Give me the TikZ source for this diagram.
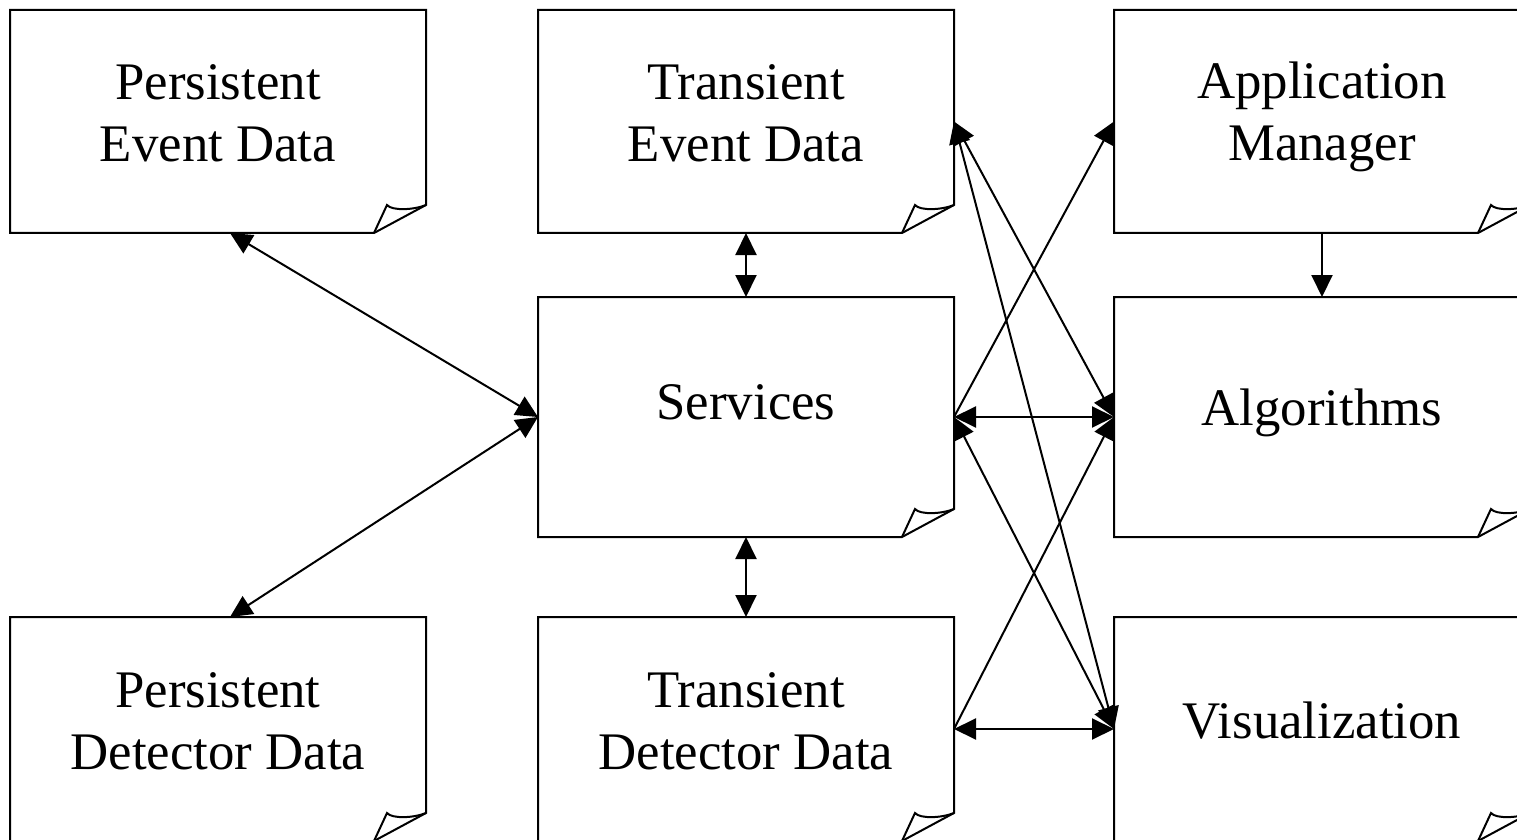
\documentclass[tikz,border=0pt]{standalone}
\usepackage{fontspec}
\setmainfont{Liberation Serif}
\usetikzlibrary{arrows.meta,calc}

\tikzset{
  docbox/.style={minimum width=208pt, minimum height=111.5pt, inner sep=0pt, outer sep=0pt},
  doctext/.style={align=center, font=\fontsize{26.4}{31}\selectfont},
  one/.style={line width=1pt, -{Triangle[length=11pt,width=10.5pt]}},
  both/.style={line width=1pt, {Triangle[length=11pt,width=10.5pt]}-{Triangle[length=11pt,width=10.5pt]}},
}

\begin{document}
\begin{tikzpicture}[x=0.5pt,y=-0.5pt]
\clip (0,0) rectangle (1517,840);

% the boxes
\node [docbox] (ped) at (218,121.5) {};
\node [docbox] (ted) at (746,121.5) {};
\node [docbox] (apm) at (1322,121.5) {};
\node [docbox,minimum height=120pt] (svc) at (746,417) {};
\node [docbox,minimum height=120pt] (alg) at (1322,417) {};
\node [docbox,minimum height=112pt] (pdd) at (218,729) {};
\node [docbox,minimum height=112pt] (tdd) at (746,729) {};
\node [docbox,minimum height=112pt] (vis) at (1322,729) {};

% outline with the folded corner
\foreach \n in {ped,ted,apm,svc,alg,pdd,tdd,vis} {
  \draw [line width=1pt, line join=miter]
    (\n.north west) -- (\n.north east) -- ([yshift=14pt]\n.south east)
    -- ([xshift=-26pt]\n.south east) -- (\n.south west) -- cycle;
  \draw [line width=1pt]
    ([xshift=-26pt]\n.south east) -- ([xshift=-19.5pt,yshift=14pt]\n.south east)
    .. controls ([xshift=-17pt,yshift=11pt]\n.south east) and ([xshift=-6pt,yshift=11.5pt]\n.south east)
    .. ([yshift=14pt]\n.south east);
}

% labels
\node [doctext] (ped-l) at ([yshift=4pt]ped.center) {Persistent\\Event Data};
\node [doctext] (ted-l) at ([yshift=4pt]ted.center) {Transient\\Event Data};
\node [doctext] (apm-l) at ([yshift=2.5pt]apm.center) {Application\\Manager};
\node [doctext] (svc-l) at ([yshift=7.5pt]svc.center) {Services};
\node [doctext] (alg-l) at ([yshift=2pt]alg.center) {Algorithms};
\node [doctext] (pdd-l) at ([yshift=4pt]pdd.center) {Persistent\\Detector Data};
\node [doctext] (tdd-l) at ([yshift=4pt]tdd.center) {Transient\\Detector Data};
\node [doctext] (vis-l) at ([yshift=4pt]vis.center) {Visualization};

% connections
\draw [both] ($(ped.south)+(12,0)$) -- (svc.west);
\draw [both] ($(pdd.north)+(12,0)$) -- (svc.west);
\draw [both] (ted.south) -- (svc.north);
\draw [both] (svc.south) -- (tdd.north);
\draw [one] (apm.south) -- (alg.north);
\draw [both] (svc.east) -- (alg.west);
\draw [both] (tdd.east) -- (vis.west);
\draw [one] (svc.east) -- (apm.west);
\draw [both] (svc.east) -- (vis.west);
\draw [both] (ted.east) -- (alg.west);
\draw [both] (ted.east) -- (vis.west);
\draw [one] (tdd.east) -- (alg.west);
\end{tikzpicture}
\end{document}
